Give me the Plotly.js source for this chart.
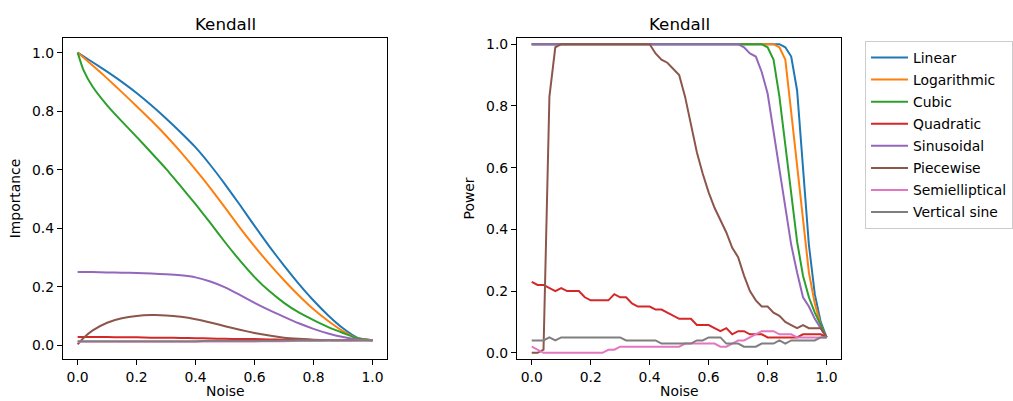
<!DOCTYPE html>
<html><head><meta charset="utf-8">
<script src="https://cdn.plot.ly/plotly-3.0.1.min.js"></script>
<style>html,body{margin:0;padding:0;background:#fff}#chart{width:1013px;height:401px}</style>
</head><body><div id="chart"></div>
<script>
// ---------- Data ----------
const seriesNames = ["Linear","Logarithmic","Cubic","Quadratic","Sinusoidal","Piecewise","Semielliptical","Vertical sine"];
const seriesColors = ["#1f77b4","#ff7f0e","#2ca02c","#d62728","#9467bd","#8c564b","#e377c2","#7f7f7f"];
const panelTitle = "Kendall";
const xLabel = "Noise";
const yLabelLeft = "Importance";
const yLabelRight = "Power";

// Left panel (Importance) noise levels
const noiseImp = [0.00,0.02,0.05,0.10,0.15,0.20,0.25,0.30,0.35,0.40,0.45,0.50,0.55,0.60,0.65,0.70,0.75,0.80,0.85,0.90,0.95,1.00];
const impLinear      = [1.0,0.987,0.968,0.935,0.90,0.862,0.82,0.775,0.727,0.676,0.616,0.55,0.48,0.408,0.338,0.272,0.21,0.153,0.102,0.058,0.025,0.017];
const impLogarithmic = [1.0,0.983,0.957,0.912,0.865,0.817,0.768,0.716,0.66,0.60,0.537,0.47,0.402,0.338,0.278,0.222,0.17,0.123,0.083,0.048,0.023,0.017];
const impCubic       = [1.0,0.94,0.885,0.82,0.765,0.712,0.658,0.603,0.543,0.482,0.418,0.352,0.29,0.233,0.185,0.145,0.112,0.086,0.062,0.042,0.023,0.017];
const impQuadratic   = [0.028,0.028,0.028,0.028,0.027,0.027,0.026,0.026,0.025,0.024,0.023,0.022,0.021,0.021,0.02,0.019,0.019,0.018,0.018,0.017,0.017,0.017];
const impSinusoidal  = [0.25,0.25,0.25,0.249,0.248,0.247,0.245,0.243,0.239,0.232,0.218,0.198,0.172,0.145,0.12,0.097,0.075,0.056,0.04,0.028,0.02,0.017];
const impPiecewise   = [0.003,0.025,0.05,0.077,0.092,0.10,0.103,0.102,0.097,0.089,0.078,0.065,0.053,0.042,0.033,0.026,0.022,0.019,0.018,0.017,0.017,0.017];
const impSemielliptical = [0.012,0.012,0.012,0.012,0.012,0.012,0.012,0.012,0.012,0.012,0.013,0.013,0.013,0.013,0.014,0.014,0.015,0.015,0.016,0.016,0.017,0.017];
const impVerticalSine   = [0.014,0.014,0.014,0.014,0.014,0.014,0.014,0.014,0.014,0.014,0.015,0.015,0.015,0.015,0.015,0.016,0.016,0.016,0.016,0.017,0.017,0.017];

// Right panel (Power) noise levels
const noisePow = [0.00,0.02,0.04,0.06,0.08,0.10,0.12,0.14,0.16,0.18,
                  0.20,0.22,0.24,0.26,0.28,0.30,0.32,0.34,0.36,0.38,
                  0.40,0.42,0.44,0.46,0.48,0.50,0.52,0.54,0.56,0.58,
                  0.60,0.62,0.64,0.66,0.68,0.70,0.72,0.74,0.76,0.78,
                  0.80,0.82,0.84,0.86,0.88,0.90,0.92,0.94,0.96,0.98,1.00];
const powLinear = [1,1,1,1,1,1,1,1,1,1, 1,1,1,1,1,1,1,1,1,1, 1,1,1,1,1,1,1,1,1,1, 1,1,1,1,1,1,1,1,1,1,
                   1,1,1,0.99,0.96,0.85,0.60,0.35,0.19,0.10, 0.05];
const powLogarithmic = [1,1,1,1,1,1,1,1,1,1, 1,1,1,1,1,1,1,1,1,1, 1,1,1,1,1,1,1,1,1,1, 1,1,1,1,1,1,1,1,1,1,
                   1,1,0.99,0.95,0.78,0.60,0.42,0.26,0.16,0.09, 0.05];
const powCubic = [1,1,1,1,1,1,1,1,1,1, 1,1,1,1,1,1,1,1,1,1, 1,1,1,1,1,1,1,1,1,1, 1,1,1,1,1,1,1,1,1,1,
                   0.99,0.95,0.83,0.67,0.51,0.36,0.25,0.18,0.13,0.09, 0.05];
const powQuadratic = [0.23,0.22,0.22,0.21,0.20,0.21,0.20,0.20,0.20,0.18,
                      0.17,0.17,0.17,0.17,0.19,0.18,0.18,0.16,0.15,0.15,
                      0.15,0.14,0.14,0.13,0.12,0.11,0.11,0.11,0.09,0.09,
                      0.09,0.08,0.07,0.08,0.06,0.07,0.07,0.06,0.06,0.06,
                      0.05,0.05,0.05,0.05,0.05,0.05,0.06,0.06,0.06,0.06, 0.05];
const powSinusoidal = [1,1,1,1,1,1,1,1,1,1, 1,1,1,1,1,1,1,1,1,1, 1,1,1,1,1,1,1,1,1,1,
                      1,1,1,1,1,1,0.99,0.97,0.96,0.91,
                      0.84,0.72,0.60,0.47,0.35,0.26,0.18,0.15,0.11,0.08, 0.05];
const powPiecewise = [0.00,0.00,0.01,0.83,0.99,1,1,1,1,1,
                      1,1,1,1,1,1,1,1,1,1,
                      1.0,0.97,0.95,0.94,0.92,0.90,0.83,0.74,0.65,0.58,
                      0.52,0.47,0.43,0.39,0.34,0.31,0.25,0.20,0.17,0.15,
                      0.15,0.13,0.12,0.10,0.09,0.08,0.09,0.08,0.08,0.08, 0.05];
const powSemielliptical = [0.02,0.01,0.00,0.00,0.00,0.00,0.00,0.00,0.00,0.00,
                      0.00,0.00,0.00,0.01,0.01,0.02,0.02,0.02,0.02,0.02,
                      0.02,0.02,0.02,0.02,0.02,0.02,0.03,0.03,0.03,0.03,
                      0.03,0.03,0.02,0.02,0.03,0.04,0.04,0.05,0.06,0.07,
                      0.07,0.07,0.06,0.06,0.06,0.05,0.05,0.05,0.05,0.05, 0.05];
const powVerticalSine = [0.04,0.04,0.04,0.05,0.04,0.05,0.05,0.05,0.05,0.05,
                      0.05,0.05,0.05,0.05,0.05,0.05,0.04,0.04,0.04,0.04,
                      0.04,0.04,0.03,0.03,0.03,0.03,0.03,0.03,0.04,0.04,
                      0.05,0.05,0.05,0.03,0.03,0.03,0.02,0.02,0.02,0.03,
                      0.03,0.03,0.04,0.03,0.04,0.04,0.04,0.04,0.04,0.05, 0.05];

const xTicks = [0.0,0.2,0.4,0.6,0.8,1.0];
const yTicks = [0.0,0.2,0.4,0.6,0.8,1.0];

// ---------- Build ----------
const impSeries = [impLinear,impLogarithmic,impCubic,impQuadratic,impSinusoidal,impPiecewise,impSemielliptical,impVerticalSine];
const powSeries = [powLinear,powLogarithmic,powCubic,powQuadratic,powSinusoidal,powPiecewise,powSemielliptical,powVerticalSine];

const FONT = "DejaVu Sans, Liberation Sans, sans-serif";
const FS = 13.9;
const traces = [];
seriesNames.forEach((n,i)=>{
  traces.push({x:noiseImp, y:impSeries[i], xaxis:'x', yaxis:'y', type:'scatter', mode:'lines',
    name:n, showlegend:false, hoverinfo:'skip',
    line:{color:seriesColors[i], width:2, shape:'spline', smoothing:0.5}});
});
seriesNames.forEach((n,i)=>{
  traces.push({x:noisePow, y:powSeries[i], xaxis:'x2', yaxis:'y2', type:'scatter', mode:'lines',
    name:n, legendgroup:'g'+i, showlegend:true,
    line:{color:seriesColors[i], width:2}});
});

const W = 1013, H = 401;
const axL = [63,388], axR = [518,843], axTB = [38,359];
function baseX(dom, anchor){
  return {domain:[dom[0]/W, dom[1]/W], anchor:anchor, range:[-0.05,1.05], tickvals:xTicks, tickformat:'.1f',
    showline:true, mirror:true, linecolor:'#000', linewidth:1, ticks:'outside', ticklen:5, tickwidth:1, tickcolor:'#000',
    showgrid:false, zeroline:false, automargin:false, tickfont:{family:FONT,size:FS,color:'#000'}};
}
function baseY(anchor, range, label){
  return {domain:[1-axTB[1]/H, 1-axTB[0]/H], anchor:anchor, range:range, tickvals:yTicks, tickformat:'.1f',
    showline:true, mirror:true, linecolor:'#000', linewidth:1, ticks:'outside', ticklen:5, tickwidth:1, tickcolor:'#000',
    showgrid:false, zeroline:false, automargin:false, tickfont:{family:FONT,size:FS,color:'#000'},
    title:{text:label, font:{family:FONT,size:FS,color:'#000'}, standoff:8}};
}

const layout = {
  width:W, height:H, margin:{l:0,r:0,t:0,b:0}, paper_bgcolor:'#fff', plot_bgcolor:'#fff',
  font:{family:FONT, size:FS, color:'#000'},
  xaxis: baseX(axL,'y'), yaxis: baseY('x',[-0.047,1.05],yLabelLeft),
  xaxis2: baseX(axR,'y2'), yaxis2: baseY('x2',[-0.02,1.02],yLabelRight),
  showlegend:true,
  legend:{x:867/W, y:1-41/H, xanchor:'left', yanchor:'top', bgcolor:'#fff', bordercolor:'#cccccc', borderwidth:1,
    font:{family:FONT,size:FS,color:'#000'}, tracegroupgap:1, traceorder:'grouped', itemwidth:37},
  annotations:[
    {text:panelTitle, xref:'paper', yref:'paper', x:(axL[0]+axL[1])/2/W, y:1-24/H, xanchor:'center', yanchor:'middle', showarrow:false, font:{family:FONT,size:16.7,color:'#000'}},
    {text:panelTitle, xref:'paper', yref:'paper', x:(axR[0]+axR[1])/2/W, y:1-24/H, xanchor:'center', yanchor:'middle', showarrow:false, font:{family:FONT,size:16.7,color:'#000'}},
    {text:xLabel, xref:'paper', yref:'paper', x:(axL[0]+axL[1])/2/W, y:0, xanchor:'center', yanchor:'bottom', showarrow:false, font:{family:FONT,size:FS,color:'#000'}},
    {text:xLabel, xref:'paper', yref:'paper', x:(axR[0]+axR[1])/2/W, y:0, xanchor:'center', yanchor:'bottom', showarrow:false, font:{family:FONT,size:FS,color:'#000'}}
  ]
};
Plotly.newPlot('chart', traces, layout, {displayModeBar:false, staticPlot:true});
</script></body></html>
